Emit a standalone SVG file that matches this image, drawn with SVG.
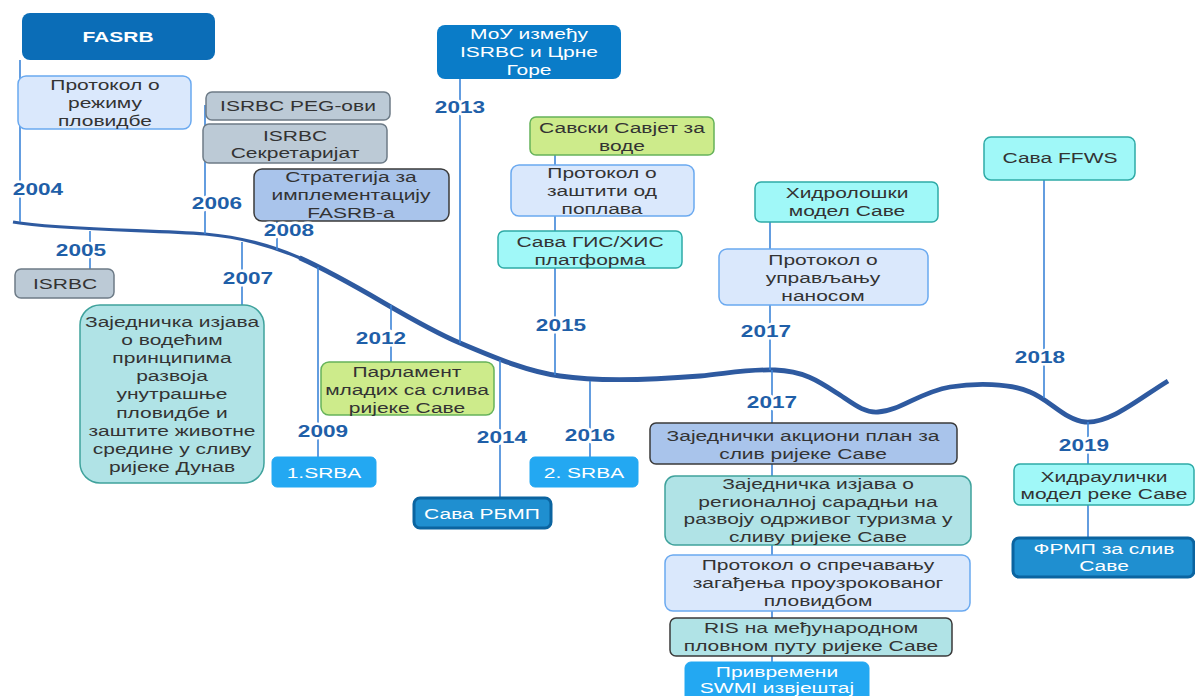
<svg xmlns="http://www.w3.org/2000/svg" width="1195" height="696" viewBox="0 0 1195 696">
  <style>
    .t { font-family: "Liberation Sans", Arial, sans-serif; font-size: 15px; fill: #333333; text-anchor: middle; }
    .w { fill: #ffffff; }
    .b { font-weight: bold; }
    .yr { font-family: "Liberation Sans", Arial, sans-serif; font-size: 17px; font-weight: bold; fill: #1f5fa8; text-anchor: middle; stroke: #ffffff; stroke-width: 5px; paint-order: stroke; stroke-linejoin: round; }
    .tick { stroke: #3d85d8; stroke-width: 1.6; fill: none; }
    .axis { stroke: #2e5aa0; fill: none; stroke-linecap: butt; }
    .lightblue { fill: #dae8fc; stroke: #6aa9f0; stroke-width: 1.5; }
    .gray { fill: #bccad6; stroke: #6d7b87; stroke-width: 1.5; }
    .midblue { fill: #a9c4eb; stroke: #3a3a3a; stroke-width: 1.5; }
    .teal { fill: #b0e3e6; stroke: #3fa29c; stroke-width: 1.5; }
    .cyan { fill: #a0f8f8; stroke: #2eaaa6; stroke-width: 1.5; }
    .green { fill: #cdeb8b; stroke: #66b35a; stroke-width: 1.5; }
    .bright { fill: #23a8f2; stroke: #23a8f2; stroke-width: 1; }
    .deep { fill: #1f8fd0; stroke: #0b64a0; stroke-width: 3; }
    .ris { fill: #b0e3e6; stroke: #3a3a3a; stroke-width: 1.5; }
  </style>

  <!-- timeline axis and year ticks -->
  <g id="connectors">
    <path class="axis" stroke-width="3.2" d="M13,222 C60,230 150,230 205,234 C240,237 270,245 300,258"/>
    <path class="axis" stroke-width="4.8" d="M299.5,257.8 C360,285 410,322 460,343 C500,360 530,372 560,376 C600,382 650,380 700,376 C730,373 750,369 775,370 C805,371 820,382 840,395 C855,405 865,413 878,412 C900,411 920,392 950,387 C975,383 1010,383 1030,392 C1050,400 1065,420 1085,422 C1110,424 1140,398 1168,381"/>
    <line class="tick" x1="20" y1="60" x2="20" y2="222"/>
    <line class="tick" x1="90" y1="231" x2="90" y2="269"/>
    <line class="tick" x1="205" y1="105" x2="205" y2="234"/>
    <line class="tick" x1="242" y1="242" x2="242" y2="305"/>
    <line class="tick" x1="277" y1="221" x2="277" y2="250"/>
    <line class="tick" x1="318" y1="267" x2="318" y2="457"/>
    <line class="tick" x1="391" y1="305" x2="391" y2="362"/>
    <line class="tick" x1="460" y1="79" x2="460" y2="343"/>
    <line class="tick" x1="500" y1="360" x2="500" y2="497"/>
    <line class="tick" x1="555" y1="155" x2="555" y2="375"/>
    <line class="tick" x1="590" y1="381" x2="590" y2="457"/>
    <line class="tick" x1="770" y1="222" x2="770" y2="370"/>
    <line class="tick" x1="772" y1="370" x2="772" y2="662"/>
    <line class="tick" x1="1044" y1="180" x2="1044" y2="398"/>
    <line class="tick" x1="1088" y1="422" x2="1088" y2="537"/>
  </g>

  <g id="node-fasrb">
    <rect x="22" y="13" width="193" height="47" rx="8" fill="#0b6db7"/>
    <text class="t w b" transform="translate(118,0) scale(1.4,1)"><tspan x="0" y="42">FASRB</tspan></text>
  </g>
  <g id="node-protokol-plovidba">
    <rect class="lightblue" x="18" y="76" width="173" height="53" rx="8"/>
    <text class="t" transform="translate(105,0) scale(1.4,1)"><tspan x="0" y="90">Протокол о</tspan><tspan x="0" y="108">режиму</tspan><tspan x="0" y="126">пловидбе</tspan></text>
  </g>
  <g id="node-isrbc-peg">
    <rect class="gray" x="206" y="92" width="184" height="28" rx="6"/>
    <text class="t" transform="translate(298,0) scale(1.4,1)"><tspan x="0" y="111">ISRBC PEG-ови</tspan></text>
  </g>
  <g id="node-isrbc-sekretarijat">
    <rect class="gray" x="203" y="124" width="184" height="39" rx="6"/>
    <text class="t" transform="translate(295,0) scale(1.4,1)"><tspan x="0" y="141">ISRBC</tspan><tspan x="0" y="158">Секретаријат</tspan></text>
  </g>
  <g id="node-strategija">
    <rect class="midblue" x="254" y="169" width="195" height="52" rx="8"/>
    <text class="t" transform="translate(351,0) scale(1.4,1)"><tspan x="0" y="182">Стратегија за</tspan><tspan x="0" y="200">имплементацију</tspan><tspan x="0" y="218">FASRB-а</tspan></text>
  </g>
  <g id="node-isrbc">
    <rect class="gray" x="15" y="269" width="99" height="29" rx="6"/>
    <text class="t" transform="translate(65,0) scale(1.4,1)"><tspan x="0" y="289">ISRBC</tspan></text>
  </g>
  <g id="node-izjava-dunav">
    <rect class="teal" x="80" y="305" width="184" height="178" rx="20"/>
    <text class="t" transform="translate(172,0) scale(1.4,1)"><tspan x="0" y="327">Заједничка изјава</tspan><tspan x="0" y="345">о водећим</tspan><tspan x="0" y="363">принципима</tspan><tspan x="0" y="381">развоја</tspan><tspan x="0" y="399">унутрашње</tspan><tspan x="0" y="418">пловидбе и</tspan><tspan x="0" y="436">заштите животне</tspan><tspan x="0" y="454">средине у сливу</tspan><tspan x="0" y="472">ријеке Дунав</tspan></text>
  </g>
  <g id="node-srba1">
    <rect class="bright" x="272" y="457" width="104" height="30" rx="5"/>
    <text class="t w" transform="translate(324,0) scale(1.4,1)"><tspan x="0" y="478">1.SRBA</tspan></text>
  </g>
  <g id="node-parlament">
    <rect class="green" x="321" y="362" width="173" height="53" rx="8"/>
    <text class="t" transform="translate(407,0) scale(1.4,1)"><tspan x="0" y="377">Парламент</tspan><tspan x="0" y="395">младих са слива</tspan><tspan x="0" y="413">ријеке Саве</tspan></text>
  </g>
  <g id="node-rbmp">
    <rect class="deep" x="414" y="498" width="137" height="30" rx="6"/>
    <text class="t w" transform="translate(482,0) scale(1.4,1)"><tspan x="0" y="519">Сава РБМП</tspan></text>
  </g>
  <g id="node-srba2">
    <rect class="bright" x="530" y="457" width="108" height="30" rx="5"/>
    <text class="t w" transform="translate(584,0) scale(1.4,1)"><tspan x="0" y="478">2. SRBA</tspan></text>
  </g>
  <g id="node-mou">
    <rect x="437" y="25" width="184" height="54" rx="8" fill="#0a7cc8"/>
    <text class="t w" transform="translate(529,0) scale(1.4,1)"><tspan x="0" y="39.5">МоУ између</tspan><tspan x="0" y="57.5">ISRBC и Црне</tspan><tspan x="0" y="75.5">Горе</tspan></text>
  </g>
  <g id="node-savjet">
    <rect class="green" x="530" y="117" width="184" height="38" rx="6"/>
    <text class="t" transform="translate(622,0) scale(1.4,1)"><tspan x="0" y="133">Савски Савјет за</tspan><tspan x="0" y="151">воде</tspan></text>
  </g>
  <g id="node-poplave">
    <rect class="lightblue" x="511" y="165" width="183" height="51" rx="8"/>
    <text class="t" transform="translate(602,0) scale(1.4,1)"><tspan x="0" y="178">Протокол о</tspan><tspan x="0" y="196">заштити од</tspan><tspan x="0" y="214">поплава</tspan></text>
  </g>
  <g id="node-gis">
    <rect class="cyan" x="498" y="231" width="184" height="37" rx="6"/>
    <text class="t" transform="translate(590,0) scale(1.4,1)"><tspan x="0" y="247">Сава ГИС/ХИС</tspan><tspan x="0" y="265">платформа</tspan></text>
  </g>
  <g id="node-hidroloski">
    <rect class="cyan" x="755" y="182" width="183" height="40" rx="6"/>
    <text class="t" transform="translate(847,0) scale(1.4,1)"><tspan x="0" y="198">Хидролошки</tspan><tspan x="0" y="216">модел Саве</tspan></text>
  </g>
  <g id="node-nanos">
    <rect class="lightblue" x="719" y="249" width="209" height="56" rx="8"/>
    <text class="t" transform="translate(823,0) scale(1.4,1)"><tspan x="0" y="265">Протокол о</tspan><tspan x="0" y="283">управљању</tspan><tspan x="0" y="301">наносом</tspan></text>
  </g>
  <g id="node-akcioni">
    <rect class="midblue" x="650" y="423" width="307" height="41" rx="6"/>
    <text class="t" transform="translate(803,0) scale(1.4,1)"><tspan x="0" y="441">Заједнички акциони план за</tspan><tspan x="0" y="459">слив ријеке Саве</tspan></text>
  </g>
  <g id="node-turizam">
    <rect class="teal" x="665" y="476" width="306" height="69" rx="10"/>
    <text class="t" transform="translate(818,0) scale(1.4,1)"><tspan x="0" y="489">Заједничка изјава о</tspan><tspan x="0" y="507">регионалној сарадњи на</tspan><tspan x="0" y="524">развоју одрживог туризма у</tspan><tspan x="0" y="542">сливу ријеке Саве</tspan></text>
  </g>
  <g id="node-zagadjenje">
    <rect class="lightblue" x="665" y="555" width="305" height="56" rx="8"/>
    <text class="t" transform="translate(818,0) scale(1.4,1)"><tspan x="0" y="570">Протокол о спречавању</tspan><tspan x="0" y="588">загађења проузрокованог</tspan><tspan x="0" y="606">пловидбом</tspan></text>
  </g>
  <g id="node-ris">
    <rect class="ris" x="670" y="618" width="282" height="38" rx="6"/>
    <text class="t" transform="translate(811,0) scale(1.4,1)"><tspan x="0" y="633">RIS на међународном</tspan><tspan x="0" y="651">пловном путу ријеке Саве</tspan></text>
  </g>
  <g id="node-swmi">
    <rect class="bright" x="685" y="662" width="184" height="50" rx="6"/>
    <text class="t w" transform="translate(777,0) scale(1.4,1)"><tspan x="0" y="677">Привремени</tspan><tspan x="0" y="693">SWMI извјештај</tspan></text>
  </g>
  <g id="node-ffws">
    <rect class="cyan" x="984" y="137" width="151" height="43" rx="7"/>
    <text class="t" transform="translate(1060,0) scale(1.4,1)"><tspan x="0" y="163">Сава FFWS</tspan></text>
  </g>
  <g id="node-hidraulicki">
    <rect class="cyan" x="1014" y="464" width="180" height="41" rx="6"/>
    <text class="t" transform="translate(1104,0) scale(1.4,1)"><tspan x="0" y="482">Хидраулички</tspan><tspan x="0" y="499">модел реке Саве</tspan></text>
  </g>
  <g id="node-frmp">
    <rect class="deep" x="1013" y="538" width="181" height="39" rx="6"/>
    <text class="t w" transform="translate(1104,0) scale(1.4,1)"><tspan x="0" y="554">ФРМП за слив</tspan><tspan x="0" y="571">Саве</tspan></text>
  </g>

  <!-- year labels along the axis -->
  <g id="year-labels">
    <text class="yr" transform="translate(38,0) scale(1.33,1)"><tspan x="0" y="195">2004</tspan></text>
    <text class="yr" transform="translate(81,0) scale(1.33,1)"><tspan x="0" y="256">2005</tspan></text>
    <text class="yr" transform="translate(217,0) scale(1.33,1)"><tspan x="0" y="209">2006</tspan></text>
    <text class="yr" transform="translate(248,0) scale(1.33,1)"><tspan x="0" y="284">2007</tspan></text>
    <text class="yr" transform="translate(289,0) scale(1.33,1)"><tspan x="0" y="236">2008</tspan></text>
    <text class="yr" transform="translate(323,0) scale(1.33,1)"><tspan x="0" y="437">2009</tspan></text>
    <text class="yr" transform="translate(381,0) scale(1.33,1)"><tspan x="0" y="344">2012</tspan></text>
    <text class="yr" transform="translate(460,0) scale(1.33,1)"><tspan x="0" y="113">2013</tspan></text>
    <text class="yr" transform="translate(502,0) scale(1.33,1)"><tspan x="0" y="443">2014</tspan></text>
    <text class="yr" transform="translate(561,0) scale(1.33,1)"><tspan x="0" y="331">2015</tspan></text>
    <text class="yr" transform="translate(590,0) scale(1.33,1)"><tspan x="0" y="441">2016</tspan></text>
    <text class="yr" transform="translate(766,0) scale(1.33,1)"><tspan x="0" y="337">2017</tspan></text>
    <text class="yr" transform="translate(772,0) scale(1.33,1)"><tspan x="0" y="408">2017</tspan></text>
    <text class="yr" transform="translate(1040,0) scale(1.33,1)"><tspan x="0" y="363">2018</tspan></text>
    <text class="yr" transform="translate(1084,0) scale(1.33,1)"><tspan x="0" y="451">2019</tspan></text>
  </g>
</svg>
